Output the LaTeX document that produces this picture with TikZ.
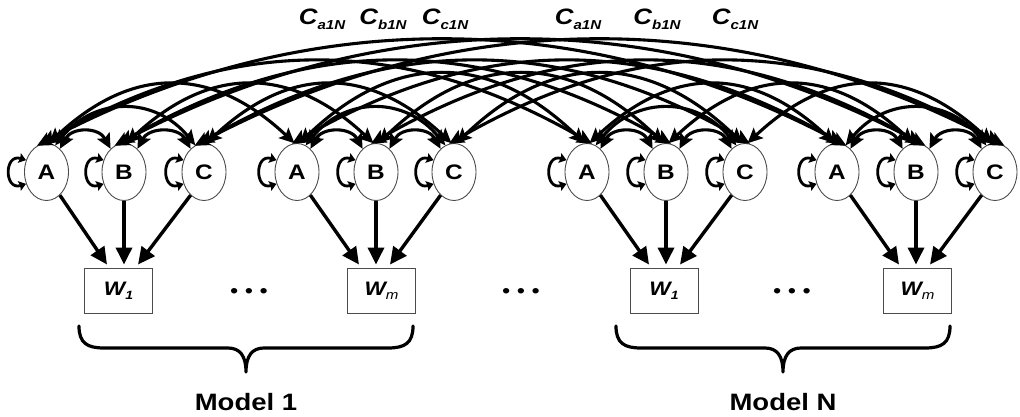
\documentclass[tikz,border=0pt]{standalone}
\usepackage{fontspec}
\setmainfont{Liberation Sans}
\usetikzlibrary{arrows.meta,shapes.geometric,calc}
\newcommand{\sx}[1]{\scalebox{1.16}[1]{#1}}
\newcommand{\lnk}[6]{\draw[linkarc] (#1.#2) .. controls +(#5,-#6) and +(-#5,-#6) .. (#3.#4);}
\begin{document}
\begin{tikzpicture}[x=1pt,y=-1pt,
  var/.style={ellipse,draw=black!70,line width=0.9pt,fill=white,minimum width=44pt,minimum height=57pt,inner sep=0pt,font=\fontsize{21}{21}\selectfont\bfseries},
  wbox/.style={rectangle,draw=black!70,line width=0.9pt,fill=white,minimum width=68pt,minimum height=45pt,inner sep=0pt,font=\fontsize{19.5}{20}\selectfont\bfseries\itshape},
  clabel/.style={inner sep=0pt,font=\fontsize{22.3}{23}\selectfont\bfseries\itshape},
  mlabel/.style={inner sep=0pt,font=\fontsize{23.7}{24}\selectfont\bfseries},
  dotsl/.style={inner sep=0pt,font=\fontsize{19}{19}\selectfont\bfseries},
  linkarc/.style={line width=3.1pt,{Stealth[length=15pt,width=14pt,inset=3pt]}-{Stealth[length=15pt,width=14pt,inset=3pt]}},
  selfloop/.style={line width=2.8pt,{Stealth[length=7pt,width=10pt,inset=1pt]}-{Stealth[length=7pt,width=10pt,inset=1pt]}},
  warr/.style={line width=3.4pt,-{Triangle[length=17pt,width=16pt]}},
  bracel/.style={line width=3.2pt,line cap=round,line join=round}]
\useasboundingbox[fill=white] (0,0) rectangle (1020,417);

% variable nodes
\foreach \g/\xa/\xb/\xc in {1/46.5/124/204, 2/297/376/454, 3/587/666/745, 4/837/916/995} {
  \node[var] (g\g A) at (\xa,172) {\sx{A}};
  \node[var] (g\g B) at (\xb,172) {\sx{B}};
  \node[var] (g\g C) at (\xc,172) {\sx{C}};
}

% output boxes
\node[wbox] (W11) at (118.5,290.5) {\sx{W\raisebox{-4pt}{\fontsize{12}{12}\selectfont 1}}};
\node[wbox] (W1m) at (381.5,290.5) {\sx{W\raisebox{-4pt}{\fontsize{13}{13}\selectfont\mdseries m}}};
\node[wbox] (WN1) at (664,290.5) {\sx{W\raisebox{-4pt}{\fontsize{12}{12}\selectfont 1}}};
\node[wbox] (WNm) at (917.5,290.5) {\sx{W\raisebox{-4pt}{\fontsize{13}{13}\selectfont\mdseries m}}};

% dots
\node[dotsl] (d1) at (249,293) {\sx{•\hspace{6pt}•\hspace{6pt}•}};
\node[dotsl] (d2) at (521,293) {\sx{•\hspace{6pt}•\hspace{6pt}•}};
\node[dotsl] (d3) at (792,293) {\sx{•\hspace{6pt}•\hspace{6pt}•}};

% coupling labels
\node[clabel] (ca1) at (322,19) {\sx{C\raisebox{-5pt}{\fontsize{13}{13}\selectfont a1N}}};
\node[clabel] (cb1) at (383,19) {\sx{C\raisebox{-5pt}{\fontsize{13}{13}\selectfont b1N}}};
\node[clabel] (cc1) at (445,19) {\sx{C\raisebox{-5pt}{\fontsize{13}{13}\selectfont c1N}}};
\node[clabel] (ca2) at (578,19) {\sx{C\raisebox{-5pt}{\fontsize{13}{13}\selectfont a1N}}};
\node[clabel] (cb2) at (657,19) {\sx{C\raisebox{-5pt}{\fontsize{13}{13}\selectfont b1N}}};
\node[clabel] (cc2) at (735,19) {\sx{C\raisebox{-5pt}{\fontsize{13}{13}\selectfont c1N}}};

% model labels
\node[mlabel] (m1) at (246,402) {\sx{Model 1}};
\node[mlabel] (mN) at (783,402) {\sx{Model N}};

% braces
\draw[bracel] (79,326) .. controls (79,343) and (87,348) .. (104,348) -- (228,348)
  .. controls (240,348) and (246,356) .. (246,372)
  .. controls (246,356) and (252,348) .. (264,348) -- (388,348)
  .. controls (405,348) and (413,343) .. (413,326);
\draw[bracel] (616,326) .. controls (616,343) and (624,348) .. (641,348) -- (765,348)
  .. controls (777,348) and (783,356) .. (783,372)
  .. controls (783,356) and (789,348) .. (801,348) -- (925,348)
  .. controls (942,348) and (950,343) .. (950,326);

% arrows into outputs
\foreach \g/\w in {1/W11,2/W1m,3/WN1,4/WNm} {
  \draw[warr] (g\g A.-60) -- ($(g\g B.south |- \w.north)+(-17,-3)$);
  \draw[warr] (g\g B.south) -- ($(g\g B.south |- \w.north)+(0,-3)$);
  \draw[warr] (g\g C.-120) -- ($(g\g B.south |- \w.north)+(14,-3)$);
}

% self loops
\foreach \g in {1,2,3,4} {
  \foreach \v in {A,B,C} {
    \draw[selfloop] (g\g\v.150) .. controls +(-22,-7) and +(-22,7) .. (g\g\v.210);
  }
}

% within-group links
\foreach \g in {1,2,3,4} {
  \lnk{g\g A}{60}{g\g B}{120}{12}{22}
  \lnk{g\g B}{60}{g\g C}{120}{12}{22}
  \lnk{g\g A}{72}{g\g C}{108}{40}{49}
}

% between-group links
\foreach \v in {A,B,C} {
  \lnk{g1\v}{85}{g2\v}{95}{83}{78}
  \lnk{g3\v}{85}{g4\v}{95}{83}{78}
  \lnk{g2\v}{85}{g3\v}{95}{95}{92}
  \lnk{g1\v}{100}{g3\v}{80}{190}{110}
  \lnk{g2\v}{100}{g4\v}{80}{190}{110}
  \lnk{g1\v}{110}{g4\v}{70}{265}{141}
}
\end{tikzpicture}
\end{document}
